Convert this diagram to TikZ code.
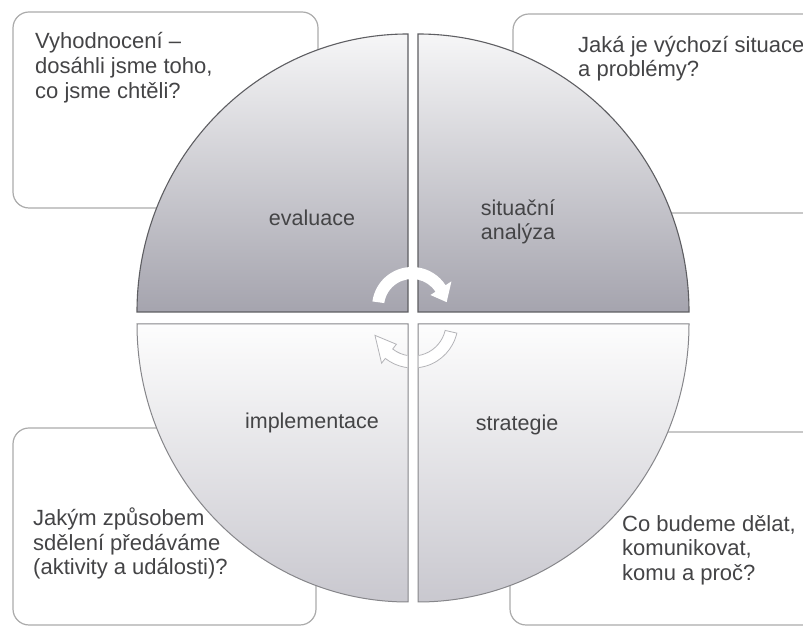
\documentclass[tikz,border=0pt]{standalone}
\usepackage{fontspec}
\setmainfont{Liberation Sans}
\usepackage{tikz}
\usetikzlibrary{positioning}

\definecolor{txtgray}{HTML}{444446}
\definecolor{boxline}{HTML}{ABABAB}
\definecolor{uptop}{HTML}{F6F6F7}
\definecolor{upmid}{HTML}{D6D6DA}
\definecolor{upbot}{HTML}{A5A4AE}
\definecolor{lowtop}{HTML}{FDFDFD}
\definecolor{lowbot}{HTML}{C9C8CF}
\definecolor{quadedge}{HTML}{5E5E62}
\definecolor{lowedge}{HTML}{86868A}
\definecolor{arrline}{HTML}{B4B4B8}

\begin{document}
\begin{tikzpicture}[x=1pt, y=1pt,
    qbox/.style={draw=boxline, line width=1.2pt, rounded corners=16pt, fill=white},
    upperq/.style={draw=quadedge, line width=1.1pt, top color=uptop, middle color=upmid, bottom color=upbot},
    lowerq/.style={draw=lowedge, line width=1pt, top color=lowtop, bottom color=lowbot},
    qtext/.style={font=\fontsize{22}{24.5}\selectfont, text=txtgray, align=left, inner sep=0pt},
    phase/.style={font=\fontsize{21.5}{24}\selectfont, text=txtgray, align=left, inner sep=0pt},
]
\useasboundingbox (0,0) rectangle (803,628);
\clip (0,0) rectangle (803,628);
\fill[white] (0,0) rectangle (803,628);

% --- Question boxes (behind the circle) ---
\draw[qbox] (13,420) rectangle (318,616);
\draw[qbox] (513,415) rectangle (830,614);
\draw[qbox] (13,3) rectangle (316,200);
\draw[qbox] (510,3) rectangle (830,196);

% --- Quadrants ---
\draw[upperq] (408,316) -- ++(-271,0) arc[start angle=180, end angle=90, x radius=271, y radius=278] -- cycle;
\draw[upperq] (418,316) -- ++(0,278) arc[start angle=90, end angle=0, x radius=271, y radius=278] -- cycle;
\draw[lowerq] (408,304) -- ++(0,-278) arc[start angle=270, end angle=180, x radius=271, y radius=278] -- cycle;
\draw[lowerq] (418,304) -- ++(271,0) arc[start angle=0, end angle=-90, x radius=271, y radius=278] -- cycle;

% Phase labels
\node[phase] (eval) at (312,410) {evaluace};
\node[phase] (sit) at (518,406) {situační\\analýza};
\node[phase] (impl) at (312,205) {implementace};
\node[phase] (strat) at (517,203) {strategie};

% --- Cycle arrows ---
\begin{scope}[shift={(412,321)}]
  \fill[white] (172:40) arc[start angle=172, end angle=33, radius=40] -- (33:47) -- (8:35)
    -- (33:22) -- (33:28) arc[start angle=33, end angle=172, radius=28] -- cycle;
\end{scope}
\foreach \xa/\xb in {0/407.4, 418.6/803} {
  \begin{scope}
    \clip (\xa,0) rectangle (\xb,628);
    \filldraw[fill=white, draw=arrline, line width=0.8pt, shift={(413,305)}]
      (-13:45) arc[start angle=-13, end angle=-128, radius=45] -- (-128:51) -- (-162:40)
      -- (-128:27) -- (-128:33) arc[start angle=-128, end angle=-13, radius=33] -- cycle;
  \end{scope}
}

% --- Questions ---
\node[qtext, anchor=north west, font=\fontsize{22}{25}\selectfont] (qeval) at (35,596) {Vyhodnocení --\\dosáhli jsme toho,\\co jsme chtěli?};
\node[qtext, anchor=north west] (qsit) at (578,592) {Jaká je výchozí situace\\a problémy?};
\node[qtext, anchor=north west] (qimpl) at (33,120) {Jakým způsobem\\sdělení předáváme\\(aktivity a události)?};
\node[qtext, anchor=north west] (qstrat) at (622,113) {Co budeme dělat,\\komunikovat,\\komu a proč?};

\end{tikzpicture}
\end{document}
